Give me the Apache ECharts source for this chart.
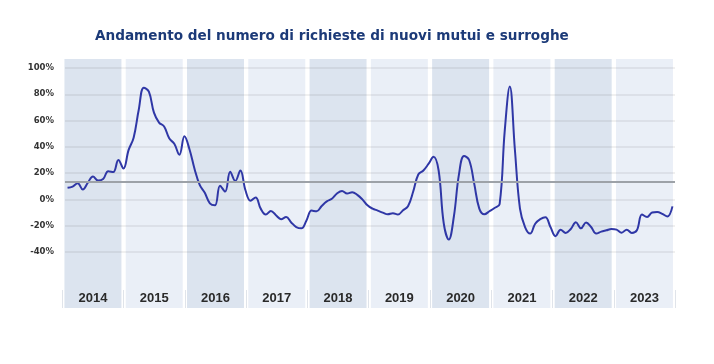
<!DOCTYPE html>
<html><head><meta charset="utf-8">
<script src="https://cdn.jsdelivr.net/npm/echarts@6/dist/echarts.min.js"></script>
<style>html,body{margin:0;padding:0;background:#fff}#c{width:714px;height:364px}</style>
</head><body><div id="c"></div>
<script>
const titleText = 'Andamento del numero di richieste di nuovi mutui e surroghe';
const years = ['2014','2015','2016','2017','2018','2019','2020','2021','2022','2023'];
const months = [];
years.forEach(function (y) { for (let m = 1; m <= 12; m++) months.push(y + '-' + (m < 10 ? '0' : '') + m); });

// monthly change (%) of requests, Jan 2014 - Dec 2023
const values2014 = [8.8, 9.8, 12.3, 7.5, 12.8, 17.5, 14.4, 15.5, 21.5, 20.8, 30, 23.5];
const values2015 = [37.5, 47, 68, 85, 82, 66, 58.5, 55.5, 46.5, 42.3, 34, 48];
const values2016 = [38, 23, 11, 5, -3, -4.5, 10.5, 6, 21, 14, 22, 7];
const values2017 = [-1, 1.5, -7, -11.5, -8.8, -12, -15, -13.4, -17.5, -21, -22, -16];
const values2018 = [-8.5, -9, -5, -1.5, 0.5, 4.5, 6.5, 4.5, 5.5, 3.5, 0, -4.5];
const values2019 = [-7, -8.5, -10, -11.3, -10.5, -11.5, -8.2, -5, 6, 19, 22, 27];
const values2020 = [32.5, 22, -18, -30.5, -13, 19, 33, 30, 12, -7, -11.3, -9];
const values2021 = [-6.5, -3.5, 52, 86, 38, -7, -21, -26, -18.5, -15, -13.5, -21];
const values2022 = [-28, -23, -25.5, -22.5, -17.3, -22, -17.5, -21, -26, -24.5, -23.5, -22.5];
const values2023 = [-23, -25.3, -23, -25.5, -23.5, -11.4, -13.4, -10, -9.6, -11, -13, -5.3];
const values = [].concat(values2014, values2015, values2016, values2017, values2018,
  values2019, values2020, values2021, values2022, values2023);
const averageLevel = 13.2;

const bandDark = '#dce4ef';
const bandLight = '#eaeff7';

const chart = echarts.init(document.getElementById('c'));
chart.setOption({
  animation: false,
  backgroundColor: '#ffffff',
  title: {
    text: titleText,
    left: 90, top: 24,
    textStyle: { fontFamily: 'DejaVu Sans', fontWeight: 'bold', fontSize: 13.6, color: '#1c3a78' }
  },
  grid: [
    { left: 62.3, right: 38.9, top: 59, bottom: 56 },
    { left: 65, right: 39, top: 68, bottom: 112 }
  ],
  xAxis: [
    {
      gridIndex: 0, type: 'category', data: years, z: 1,
      axisLine: { show: false },
      axisTick: { show: true, inside: true, length: 18, lineStyle: { color: '#e0e4ea' } },
      axisLabel: { inside: true, margin: 3, fontFamily: 'Liberation Sans', fontWeight: 'bold', fontSize: 13, color: '#2a2a2a' }
    },
    { gridIndex: 1, type: 'category', data: months, boundaryGap: true, show: false }
  ],
  yAxis: [
    { gridIndex: 0, type: 'value', min: 0, max: 1, show: false },
    {
      gridIndex: 1, type: 'value', min: -40, max: 100, interval: 20, z: 1,
      axisLine: { show: false }, axisTick: { show: false },
      axisLabel: { formatter: '{value}%', fontFamily: 'DejaVu Sans', fontWeight: 'bold', fontSize: 8.5, color: '#333333', margin: 11 },
      splitLine: { lineStyle: { color: 'rgba(0,0,0,0.08)', width: 1.5 } }
    }
  ],
  series: [
    {
      type: 'bar', xAxisIndex: 0, yAxisIndex: 0, silent: true, z: 0,
      barCategoryGap: '7%',
      data: years.map(function (y, i) { return { value: 1, itemStyle: { color: i % 2 === 0 ? bandDark : bandLight } }; })
    },
    {
      type: 'line', xAxisIndex: 1, yAxisIndex: 1, data: values, z: 4,
      smooth: 0.4, symbol: 'none',
      lineStyle: { color: '#2f37a6', width: 2 },
      markLine: {
        silent: true, symbol: 'none', label: { show: false },
        lineStyle: { color: '#9da2a8', width: 2, type: 'solid' },
        data: [{ yAxis: averageLevel }]
      }
    }
  ]
});
</script>
</body></html>
